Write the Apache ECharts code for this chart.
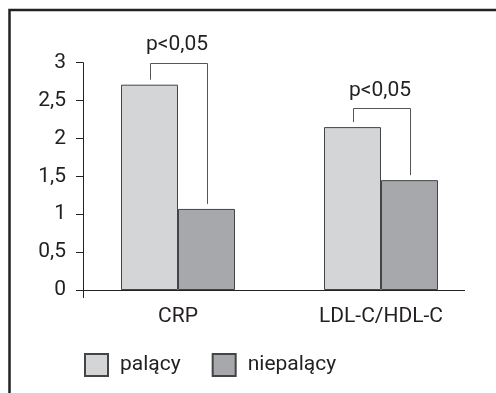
<!DOCTYPE html>
<html>
<head>
<meta charset="utf-8">
<script src="https://cdn.jsdelivr.net/npm/echarts@6/dist/echarts.min.js"></script>
<style>
html,body{margin:0;padding:0;background:#fff;}
#c{width:496px;height:393px;}
</style>
</head>
<body>
<div id="c"></div>
<script>
var categories = ['CRP', 'LDL-C/HDL-C'];
var smokers = [2.71, 2.15];
var nonSmokers = [1.07, 1.45];
var bracketLevels = [3.0, 2.4];
var bracketLabels = ['p<0,05', 'p<0,05'];
var seriesNames = ['palący', 'niepalący'];

var FONT = 'Roboto, "Liberation Sans", sans-serif';
var FS = 21;
var TEXT = '#231f20';
var BAR_W = 57;

var chart = echarts.init(document.getElementById('c'));

function bracket(params, api) {
  var cat = api.value(0);
  var level = api.value(1);
  var top = api.coord([cat, level]);
  var a = api.coord([cat, smokers[cat]]);
  var b = api.coord([cat, nonSmokers[cat]]);
  var lx = Math.round(top[0] - BAR_W / 2) + 0.5;
  var rx = Math.round(top[0] + BAR_W / 2) + 0.5;
  var ty = Math.round(top[1]) + 0.5;
  var style = { stroke: '#555', lineWidth: 1, fill: null };
  return {
    type: 'group',
    children: [
      { type: 'polyline', shape: { points: [[lx, a[1] - 5], [lx, ty], [rx, ty], [rx, b[1] - 5]] }, style: style },
      { type: 'text', x: top[0] - 1, y: top[1] - 7,
        style: { text: bracketLabels[params.dataIndex], font: FS + 'px ' + FONT, fill: TEXT, textAlign: 'center', textVerticalAlign: 'bottom' } }
    ]
  };
}

chart.setOption({
  animation: false,
  grid: { left: 76.5, right: 13.5, top: 62.7, bottom: 103 },
  legend: {
    left: 79, top: 348,
    itemWidth: 23, itemHeight: 22, itemGap: 31,
    icon: 'rect',
    data: seriesNames,
    textStyle: { fontFamily: FONT, fontSize: FS, color: TEXT, padding: [0, 0, 0, 7] }
  },
  xAxis: {
    type: 'category',
    data: categories,
    axisLine: { show: false },
    axisTick: { show: false },
    axisLabel: { fontFamily: FONT, fontSize: FS, color: TEXT, margin: 16 }
  },
  yAxis: {
    type: 'value',
    min: 0, max: 3, interval: 0.5,
    offset: -6.5,
    splitLine: { show: false },
    axisLine: { show: true, lineStyle: { color: '#222', width: 1 } },
    axisTick: { show: true, length: 7, lineStyle: { color: '#222' } },
    axisLabel: { fontFamily: FONT, fontSize: FS, color: TEXT, margin: 17,
      formatter: function (v) { return String(v).replace('.', ','); } }
  },
  series: [
    { name: seriesNames[0], type: 'bar', data: smokers, barWidth: BAR_W, barGap: '0%',
      itemStyle: { color: '#d4d5d7', borderColor: '#444', borderWidth: 1 } },
    { name: seriesNames[1], type: 'bar', data: nonSmokers, barWidth: BAR_W, barGap: '0%',
      itemStyle: { color: '#a7a8ab', borderColor: '#444', borderWidth: 1 } },
    { type: 'custom', renderItem: bracket, silent: true,
      data: bracketLevels.map(function (v, i) { return [i, v]; }), z: 5 }
  ]
});

var zeroY = chart.convertToPixel({ yAxisIndex: 0 }, 0);
var gridRect = chart.getModel().getComponent('grid', 0).coordinateSystem.getRect();
var axisX = gridRect.x + 6.5;
chart.setOption({
  graphic: [
    { type: 'rect', shape: { x: 9.5, y: 10, width: 700, height: 700 },
      style: { stroke: '#222', lineWidth: 2.5, fill: null }, silent: true },
    { type: 'line', shape: { x1: gridRect.x - 0.5, y1: Math.round(zeroY) + 0.5, x2: 465, y2: Math.round(zeroY) + 0.5 },
      style: { stroke: '#222', lineWidth: 1 } },
    { type: 'line', shape: { x1: Math.round(axisX) + 0.5, y1: zeroY, x2: Math.round(axisX) + 0.5, y2: zeroY + 8 },
      style: { stroke: '#222', lineWidth: 1 } }
  ]
});
</script>
</body>
</html>
